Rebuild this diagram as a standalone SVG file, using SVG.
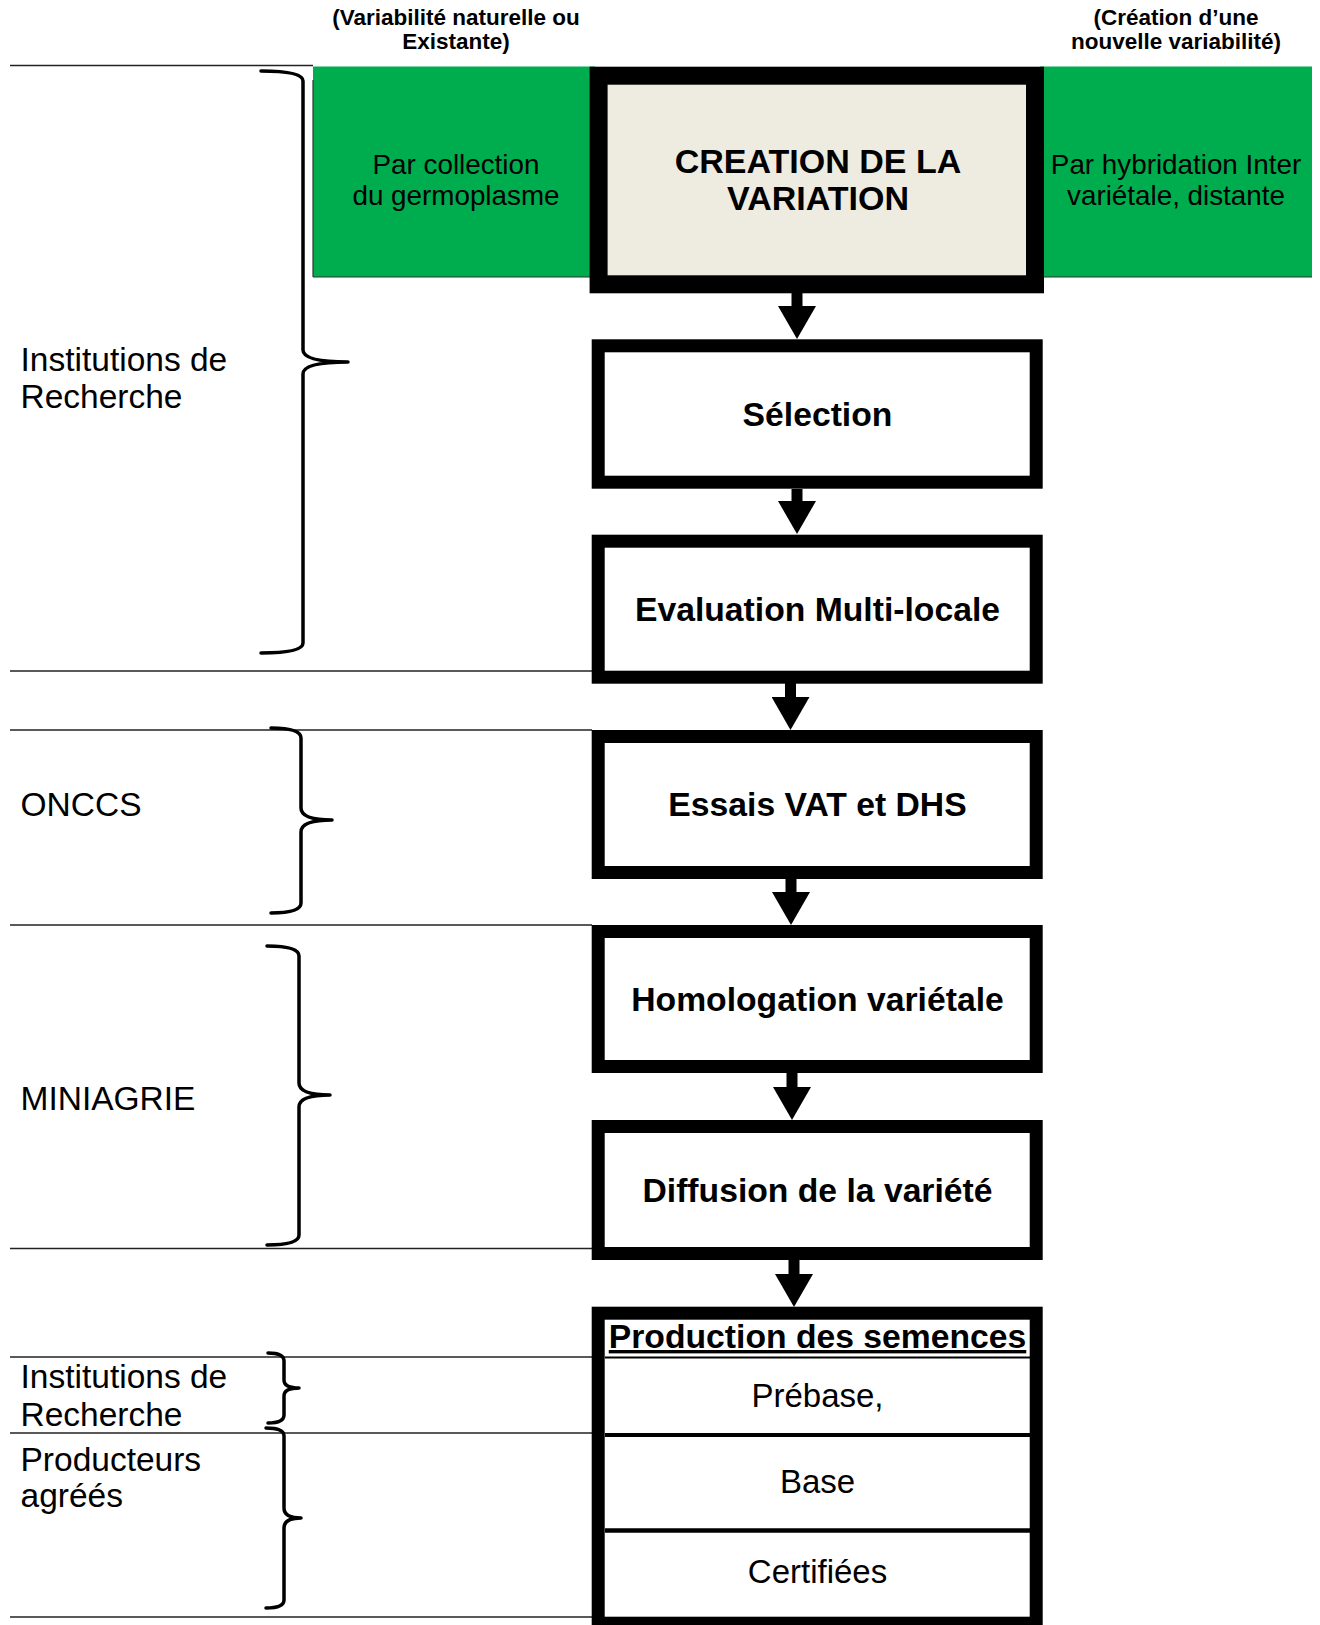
<svg xmlns="http://www.w3.org/2000/svg" width="1320" height="1625" viewBox="0 0 1320 1625">
  <style>
    text { font-family: "Liberation Sans", Arial, sans-serif; fill: #000; }
    .hdr { font-size: 22.5px; font-weight: bold; text-anchor: middle; }
    .grn { font-size: 27.8px; text-anchor: middle; }
    .ttl { font-size: 33.7px; font-weight: bold; text-anchor: middle; }
    .lbl { font-size: 33.5px; }
    .reg { font-size: 33px; text-anchor: middle; }
    .box { fill: #fff; stroke: #000; stroke-width: 13; }
    .sep { stroke: #222; stroke-width: 1.5; fill: none; }
    .brace { stroke: #000; stroke-width: 3.5; fill: none; stroke-linecap: round; stroke-linejoin: round; }
    .arrow { stroke: #000; stroke-width: 11; fill: none; }
  </style>
  <defs>
    <marker id="ah" markerUnits="userSpaceOnUse" viewBox="0 -19 33 38" refX="0" refY="0" markerWidth="33" markerHeight="38" orient="auto">
      <path d="M0,-19 L33,0 L0,19 z" fill="#000"/>
    </marker>
  </defs>

  <rect width="1320" height="1625" fill="#fff"/>

  <!-- separator lines -->
  <g id="separators">
    <line class="sep" x1="10" y1="65.5" x2="313" y2="65.5"/>
    <line class="sep" x1="10" y1="671" x2="592" y2="671"/>
    <line class="sep" x1="10" y1="730" x2="592" y2="730"/>
    <line class="sep" x1="10" y1="925" x2="592" y2="925"/>
    <line class="sep" x1="10" y1="1248.5" x2="592" y2="1248.5"/>
    <line class="sep" x1="10" y1="1357" x2="592" y2="1357"/>
    <line class="sep" x1="10" y1="1433" x2="592" y2="1433"/>
    <line class="sep" x1="10" y1="1617" x2="592" y2="1617"/>
  </g>

  <!-- column headers -->
  <g id="header-left">
    <text class="hdr" x="456" y="25">(Variabilité naturelle ou</text>
    <text class="hdr" x="456" y="48.5">Existante)</text>
  </g>
  <g id="header-right">
    <text class="hdr" x="1176" y="25">(Création d’une</text>
    <text class="hdr" x="1176" y="48.5">nouvelle variabilité)</text>
  </g>

  <!-- green side boxes -->
  <g id="green-left">
    <rect x="313" y="66.5" width="282" height="210.5" fill="#00AD4E"/>
    <line x1="313" y1="80" x2="313" y2="277" stroke="#333" stroke-width="1.2"/>
    <line x1="313" y1="277" x2="595" y2="277" stroke="#333" stroke-width="1.2"/>
    <text class="grn" x="456" y="174">Par collection</text>
    <text class="grn" x="456" y="205">du germoplasme</text>
  </g>
  <g id="green-right">
    <rect x="1040" y="66.5" width="272" height="210.5" fill="#00AD4E"/>
    <line x1="1040" y1="277" x2="1312" y2="277" stroke="#333" stroke-width="1.2"/>
    <text class="grn" x="1176" y="174">Par hybridation Inter</text>
    <text class="grn" x="1176" y="205">variétale, distante</text>
  </g>

  <!-- main flow boxes -->
  <g id="creation">
    <rect x="598.6" y="75.7" width="436.4" height="208.6" fill="#EEECE1" stroke="#000" stroke-width="18"/>
    <text class="ttl" x="818" y="173" style="font-size:34px">CREATION DE LA</text>
    <text class="ttl" x="818" y="210" style="font-size:34px">VARIATION</text>
  </g>
  <g id="selection">
    <rect class="box" x="598.2" y="345.8" width="438" height="136.4"/>
    <text class="ttl" x="817.5" y="426">Sélection</text>
  </g>
  <g id="evaluation">
    <rect class="box" x="598.2" y="541.2" width="438" height="136"/>
    <text class="ttl" x="817.5" y="621">Evaluation Multi-locale</text>
  </g>
  <g id="essais">
    <rect class="box" x="598.2" y="736.5" width="438" height="136"/>
    <text class="ttl" x="817.5" y="816">Essais VAT et DHS</text>
  </g>
  <g id="homologation">
    <rect class="box" x="598.2" y="931.5" width="438" height="135"/>
    <text class="ttl" x="817.5" y="1011">Homologation variétale</text>
  </g>
  <g id="diffusion">
    <rect class="box" x="598.2" y="1126.5" width="438" height="127"/>
    <text class="ttl" x="817.5" y="1202">Diffusion de la variété</text>
  </g>
  <g id="production">
    <rect class="box" x="598.2" y="1313.2" width="438" height="310"/>
    <text class="ttl" x="817.5" y="1348" text-decoration="underline">Production des semences</text>
    <line x1="605" y1="1357.5" x2="1030" y2="1357.5" stroke="#000" stroke-width="2"/>
    <line x1="605" y1="1435" x2="1030" y2="1435" stroke="#000" stroke-width="4"/>
    <line x1="605" y1="1530.5" x2="1030" y2="1530.5" stroke="#000" stroke-width="4.5"/>
    <text class="reg" x="817.5" y="1407">Prébase,</text>
    <text class="reg" x="817.5" y="1493">Base</text>
    <text class="reg" x="817.5" y="1583">Certifiées</text>
  </g>

  <!-- actors with braces -->
  <g id="actor-institutions-1">
    <text class="lbl" x="20.5" y="371">Institutions de</text>
    <text class="lbl" x="20.5" y="408">Recherche</text>
    <path class="brace" d="M261,71 Q303,71 303,81 L303,350 Q303,362 348,362 Q303,362 303,374 L303,643 Q303,653 261,653"/>
  </g>
  <g id="actor-onccs">
    <text class="lbl" x="20.5" y="816">ONCCS</text>
    <path class="brace" d="M271,728 Q301,728 301,738 L301,808 Q301,820 332,820 Q301,820 301,832 L301,903 Q301,913 271,913"/>
  </g>
  <g id="actor-miniagrie">
    <text class="lbl" x="20.5" y="1110">MINIAGRIE</text>
    <path class="brace" d="M267,946 Q299,946 299,956 L299,1083 Q299,1095 330,1095 Q299,1095 299,1107 L299,1235 Q299,1245 267,1245"/>
  </g>
  <g id="actor-institutions-2">
    <text class="lbl" x="20.5" y="1388">Institutions de</text>
    <text class="lbl" x="20.5" y="1426">Recherche</text>
    <path class="brace" d="M268,1353 Q284,1353 284,1361 L284,1380 Q284,1388 299,1388 Q284,1388 284,1396 L284,1415 Q284,1423 268,1423"/>
  </g>
  <g id="actor-producteurs">
    <text class="lbl" x="20.5" y="1471">Producteurs</text>
    <text class="lbl" x="20.5" y="1507">agréés</text>
    <path class="brace" d="M266,1428 Q284,1428 284,1436 L284,1508 Q284,1518 301,1518 Q284,1518 284,1528 L284,1600 Q284,1608 266,1608"/>
  </g>

  <!-- connectors -->
  <g id="connectors">
    <line class="arrow" x1="797" y1="293" x2="797" y2="306" marker-end="url(#ah)"/>
    <line class="arrow" x1="797" y1="489" x2="797" y2="501" marker-end="url(#ah)"/>
    <line class="arrow" x1="790.5" y1="683" x2="790.5" y2="697" marker-end="url(#ah)"/>
    <line class="arrow" x1="791" y1="879" x2="791" y2="892" marker-end="url(#ah)"/>
    <line class="arrow" x1="792" y1="1073" x2="792" y2="1087" marker-end="url(#ah)"/>
    <line class="arrow" x1="794" y1="1260" x2="794" y2="1274" marker-end="url(#ah)"/>
  </g>
</svg>
